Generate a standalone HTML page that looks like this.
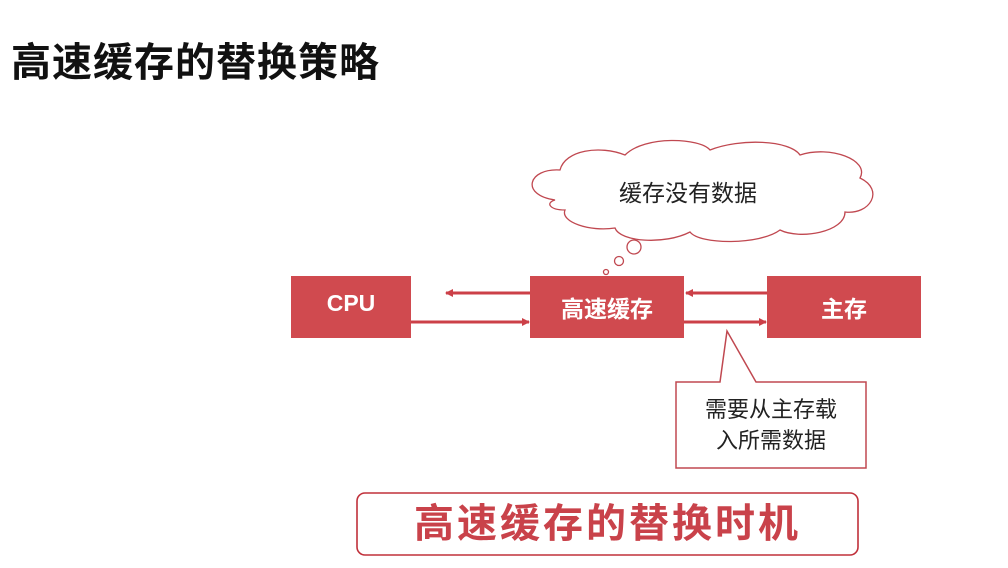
<!DOCTYPE html>
<html><head><meta charset="utf-8"><style>
body{margin:0;width:1008px;height:568px;background:#fff;overflow:hidden;position:relative;font-family:"Liberation Sans","Noto Sans CJK SC",sans-serif}
.t{position:absolute;white-space:nowrap}
</style></head><body>
<div class="t" style="left:11px;top:30px;font-size:40px;font-weight:bold;color:#111;letter-spacing:1px">高速缓存的替换策略</div>
<svg width="1008" height="568" style="position:absolute;left:0;top:0">
<defs><marker id="a" markerWidth="8" markerHeight="8" refX="7" refY="4" orient="auto" markerUnits="userSpaceOnUse"><path d="M0,0L8,4L0,8z" fill="#cc4048"/></marker></defs>
<path d="M555,200 C520,195 528,168 560,170 C565,150 600,145 625,155 C645,135 700,138 710,150 C740,138 790,140 800,155 C830,145 870,160 860,178 C885,190 870,215 845,212 C845,232 800,240 780,230 C760,245 700,245 690,232 C665,245 620,242 615,228 C590,232 560,222 565,210 C550,210 545,203 555,200Z" fill="#fff" stroke="#c04850" stroke-width="1.3"/>
<circle cx="634" cy="247" r="7" fill="#fff" stroke="#c04850" stroke-width="1.3"/>
<circle cx="619" cy="261" r="4.5" fill="#fff" stroke="#c04850" stroke-width="1.3"/>
<circle cx="606" cy="272" r="2.5" fill="#fff" stroke="#c04850" stroke-width="1.3"/>
<rect x="291" y="276" width="120" height="62" fill="#d04a4f"/>
<rect x="530" y="276" width="154" height="62" fill="#d04a4f"/>
<rect x="767" y="276" width="154" height="62" fill="#d04a4f"/>
<line x1="530" y1="293" x2="446" y2="293" stroke="#cc4048" stroke-width="3" marker-end="url(#a)"/>
<line x1="411" y1="322" x2="529" y2="322" stroke="#cc4048" stroke-width="3" marker-end="url(#a)"/>
<line x1="767" y1="293" x2="686" y2="293" stroke="#cc4048" stroke-width="3" marker-end="url(#a)"/>
<line x1="684" y1="322" x2="766" y2="322" stroke="#cc4048" stroke-width="3" marker-end="url(#a)"/>
<path d="M676,382 L720,382 L727,331 L756,382 L866,382 L866,468 L676,468Z" fill="#fff" stroke="#c04850" stroke-width="1.5"/>
<rect x="357" y="493" width="501" height="62" rx="8" fill="#fff" stroke="#c0303a" stroke-width="1.6"/>
</svg>
<div class="t" style="left:619px;top:174px;font-size:23px;color:#222">缓存没有数据</div>
<div class="t" style="left:291px;top:290px;width:120px;text-align:center;font-size:23px;font-weight:bold;color:#fff">CPU</div>
<div class="t" style="left:530px;top:290px;width:154px;text-align:center;font-size:23px;font-weight:bold;color:#fff">高速缓存</div>
<div class="t" style="left:767px;top:290px;width:154px;text-align:center;font-size:23px;font-weight:bold;color:#fff">主存</div>
<div class="t" style="left:676px;top:394px;width:190px;text-align:center;font-size:22px;line-height:31px;color:#222">需要从主存载<br>入所需数据</div>
<div class="t" style="left:357px;top:500px;width:501px;text-align:center;font-size:40px;line-height:48px;font-weight:bold;color:#c9424a;letter-spacing:3px">高速缓存的替换时机</div>
</body></html>
